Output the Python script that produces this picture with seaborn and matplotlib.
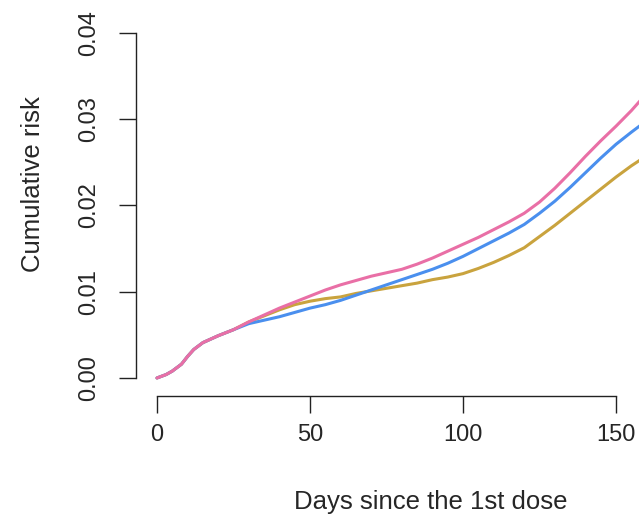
import pandas as pd
import numpy as np
import matplotlib.pyplot as plt
import seaborn as sns

days = [0, 3, 5, 8, 10, 12, 15, 20, 25, 30, 35, 40, 45, 50, 55, 60, 65, 70, 75, 80,
        85, 90, 95, 100, 105, 110, 115, 120, 125, 130, 135, 140, 145, 150, 155, 158]
early = [0.0, 0.0004, 0.0008, 0.0016, 0.0025, 0.0033, 0.0041, 0.0049, 0.0056]
pink = early + [0.0065, 0.0073, 0.0081, 0.0088, 0.0095, 0.0102, 0.0108, 0.0113, 0.0118, 0.0122, 0.0126,
                0.0132, 0.0139, 0.0147, 0.0155, 0.0163, 0.0172, 0.0181, 0.0191, 0.0204, 0.0220,
                0.0238, 0.0257, 0.0275, 0.0292, 0.0310, 0.0322]
blue = early + [0.0063, 0.0067, 0.0071, 0.0076, 0.0081, 0.0085, 0.0090, 0.0096, 0.0102, 0.0108, 0.0114,
                0.0120, 0.0126, 0.0133, 0.0141, 0.0150, 0.0159, 0.0168, 0.0178, 0.0191, 0.0205,
                0.0221, 0.0238, 0.0255, 0.0271, 0.0285, 0.0293]
gold = early + [0.0065, 0.0072, 0.0079, 0.0085, 0.0089, 0.0092, 0.0094, 0.0098, 0.0101, 0.0104, 0.0107,
                0.0110, 0.0114, 0.0117, 0.0121, 0.0127, 0.0134, 0.0142, 0.0151, 0.0164, 0.0177,
                0.0191, 0.0205, 0.0219, 0.0233, 0.0246, 0.0253]

df = pd.DataFrame({'day': days * 3,
                   'risk': pink + blue + gold,
                   'group': ['pink'] * len(days) + ['blue'] * len(days) + ['gold'] * len(days)})
colors = {'pink': '#E96FA6', 'blue': '#4A8FEE', 'gold': '#C9A33E'}

sns.set_style('white')
plt.rcParams['font.family'] = ['Liberation Sans', 'DejaVu Sans']

fig = plt.figure(figsize=(6.39, 5.23), dpi=100)
ax = fig.add_axes([136 / 639, 1 - 396 / 523, 1 - 136 / 639, (396 - 33) / 523])
sns.lineplot(data=df, x='day', y='risk', hue='group', palette=colors,
             hue_order=['gold', 'blue', 'pink'], linewidth=2.2, legend=False, ax=ax)

ax.set_xlim(-6.86, 157.5)
ax.set_ylim(-0.00209, 0.04)
ax.set_xticks([0, 50, 100, 150])
ax.set_yticks([0, 0.01, 0.02, 0.03, 0.04])
ax.set_yticklabels(['0.00', '0.01', '0.02', '0.03', '0.04'], rotation=90, va='center')
ax.tick_params(axis='both', length=12, width=1, color='#222222', labelsize=17, direction='out',
               left=True, bottom=True)
ax.tick_params(axis='x', pad=8)
ax.tick_params(axis='y', pad=14)
for s in ['top', 'right']:
    ax.spines[s].set_visible(False)
for s in ['left', 'bottom']:
    ax.spines[s].set_color('#222222')
    ax.spines[s].set_linewidth(1)
ax.spines['left'].set_bounds(0, 0.04)
ax.spines['bottom'].set_bounds(0, 150)
ax.set_xlabel('')
ax.set_ylabel('')

fig.text(431 / 639, 1 - 502 / 523, 'Days since the 1st dose', ha='center', va='center', fontsize=18.5)
fig.text(33 / 639, 1 - 184 / 523, 'Cumulative risk', ha='center', va='center', rotation=90, fontsize=18.5)

plt.savefig('out.png', dpi=100)
plt.close()
